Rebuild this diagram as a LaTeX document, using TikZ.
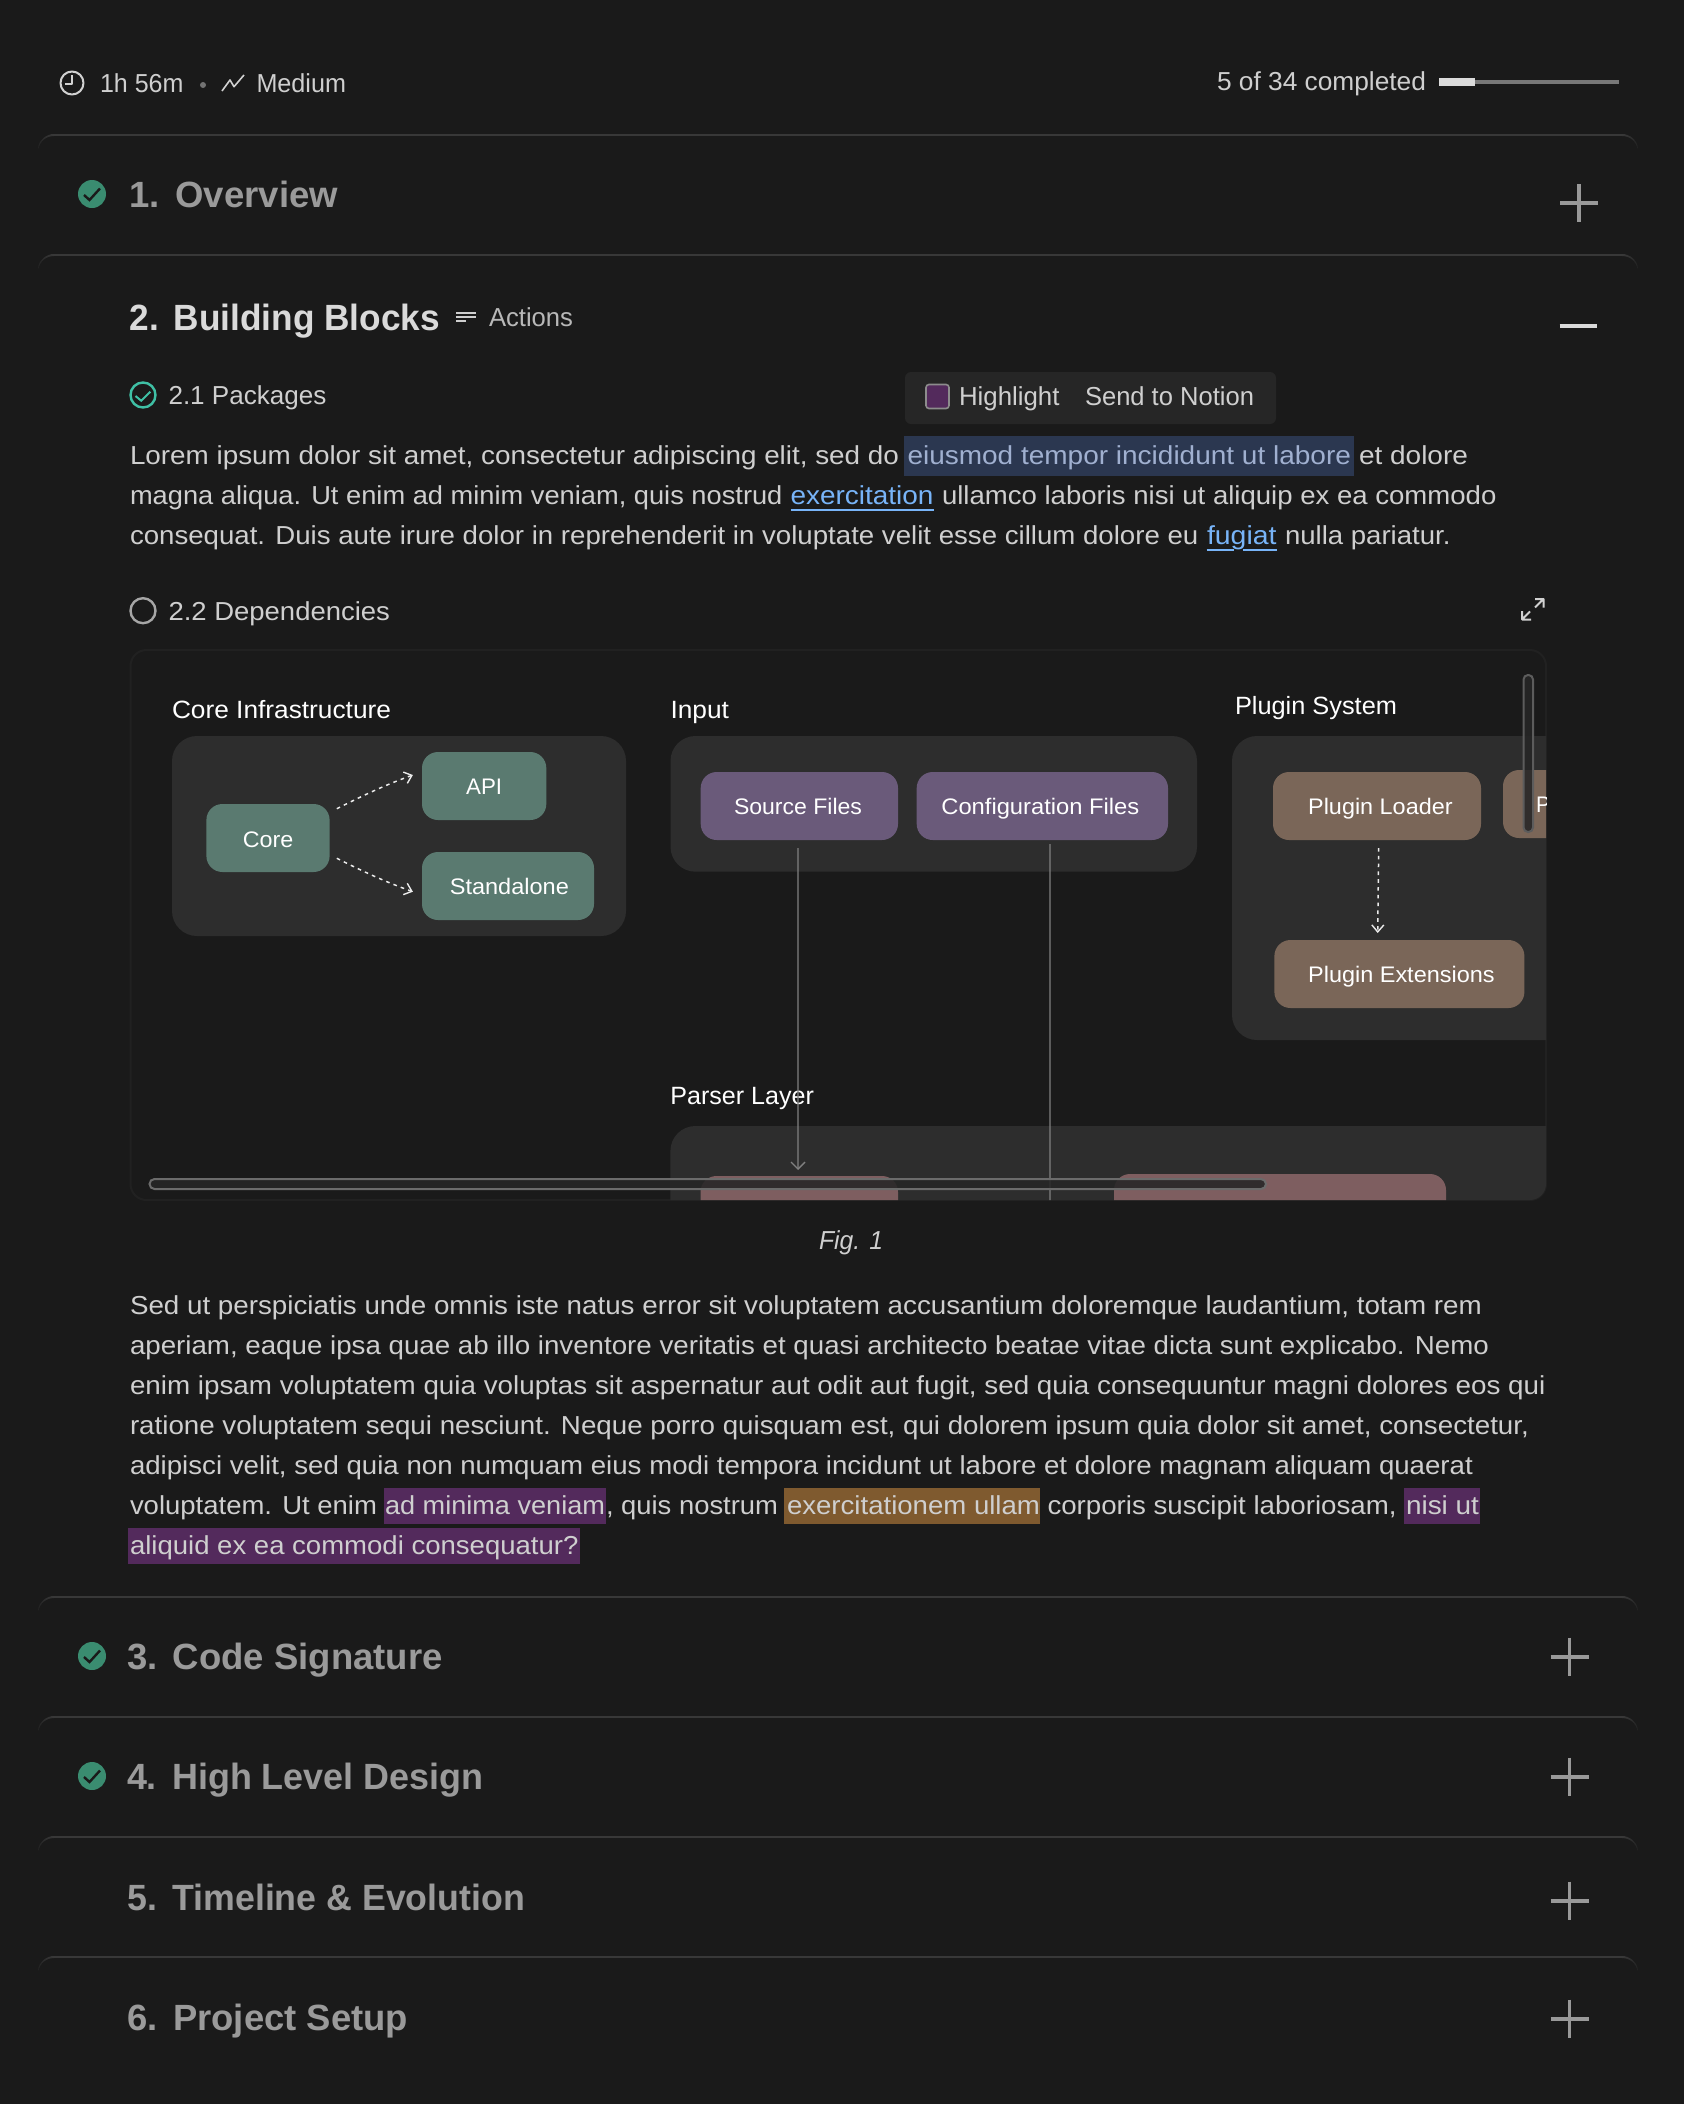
\documentclass[tikz,border=0pt]{standalone}
\usepackage{graphicx}
\usepackage{fontspec}
\usetikzlibrary{arrows.meta,calc}
\setmainfont{Liberation Sans}
\newcommand\fbody{\fontsize{26}{30}\selectfont}
\newcommand\fhead{\bfseries\fontsize{36.5}{40}\selectfont}
\newcommand\flabel{\fontsize{25}{28}\selectfont}
\newcommand\fdia{\fontsize{22.5}{26}\selectfont}
\definecolor{pagebg}{HTML}{1A1A1A}
\definecolor{secline}{HTML}{383838}
\definecolor{txtmain}{HTML}{CFCFCF}
\definecolor{txthead}{HTML}{DADADA}
\definecolor{txtdim}{HTML}{9A9A9A}
\definecolor{iconcross}{HTML}{999999}
\definecolor{linkblue}{HTML}{78B4F8}
\definecolor{selbg}{HTML}{2B3750}
\definecolor{seltxt}{HTML}{A0B0D0}
\definecolor{hlpurple}{HTML}{532A5C}
\definecolor{hlorange}{HTML}{7F5A2F}
\definecolor{checkgreen}{HTML}{3A8C70}
\definecolor{checkring}{HTML}{3FC0A5}
\definecolor{groupbg}{HTML}{2D2D2D}
\definecolor{nodegreen}{HTML}{5A7A70}
\definecolor{nodepurple}{HTML}{6A5A7A}
\definecolor{nodebrown}{HTML}{7A6658}
\definecolor{nodered}{HTML}{7E5E60}
\newsavebox\fitbox
\newcommand\fitx[2]{\sbox\fitbox{#2}\pgfmathsetmacro\fitr{#1/(\the\wd\fitbox)}\scalebox{\fitr}[1]{\usebox\fitbox}}
% font, colour, name, x0, x1, baseline, text
\newcommand\TX[7]{\pgfmathsetmacro\tw{#5-#4}\node[txt,font=#1,text=#2] (#3) at (#4,#6) {\fitx{\tw}{#7}};}
% name, x0, x1, y0, y1, style, text
\newcommand\BX[7]{\pgfmathsetmacro\bw{#3-#2}\pgfmathsetmacro\bh{#5-#4}\pgfmathsetmacro\bx{(#2+#3)/2}\pgfmathsetmacro\by{(#4+#5)/2}\node[#6,minimum width=\bw pt,minimum height=\bh pt] (#1) at (\bx,\by) {#7};}
\newcommand\secline[1]{%
  \draw[secline,line width=2pt] (54,#1) -- (1622,#1);
  \foreach \a in {0,10,...,70}{%
    \pgfmathsetmacro\p{100-\a*1.05}\pgfmathsetmacro\lw{2-\a/60}%
    \draw[color=secline!\p!pagebg,line width=\lw pt,line cap=round] ({54-16*sin(\a)},{#1+16-16*cos(\a)}) -- ({54-16*sin(\a+10)},{#1+16-16*cos(\a+10)});
    \draw[color=secline!\p!pagebg,line width=\lw pt,line cap=round] ({1622+16*sin(\a)},{#1+16-16*cos(\a)}) -- ({1622+16*sin(\a+10)},{#1+16-16*cos(\a+10)});
  }}
\newcommand\greencheck[2]{%
  \fill[checkgreen] (#1,#2) circle[radius=14];
  \draw[pagebg,line width=2.4pt] (#1-8,#2+1) -- (#1-2.5,#2+6) -- (#1+8,#2-5.5);}
\newcommand\plusicon[2]{%
  \draw[iconcross,line width=4pt] (#1-19,#2) -- (#1+19,#2);
  \draw[iconcross,line width=3.6pt] (#1,#2-19) -- (#1,#2+19);}
\tikzset{
  txt/.style={anchor=base west,inner sep=0pt,outer sep=0pt},
  rnd/.style={rectangle,rounded corners=16pt,inner sep=0pt,outer sep=0pt,text height=16.8pt,text depth=0pt,text=white,font=\fdia},
  grp/.style={rectangle,rounded corners=25pt,inner sep=0pt,outer sep=0pt,fill=groupbg},
  dep/.style={color=white!92!black,line width=1.5pt,dash pattern=on 3.6pt off 4.2pt,-{Straight Barb[length=7pt,width=12pt,line width=1.4pt]}},
  flow/.style={color=white!50!black,line width=1.3pt},
  icon/.style={line width=2pt,color=white!82!black,line join=round},
}
\begin{document}
\begin{tikzpicture}[x=1pt,y=-1pt]
\fill[pagebg] (0,0) rectangle (1684,2104);
\useasboundingbox (0,0) rectangle (1684,2104);

% top bar
\draw[icon] (72,83) circle[radius=11.5];
\draw[icon,line width=1.8pt] (72,75) -- (72,84) -- (65,84);
\TX{\fbody}{txtmain}{duration}{100}{183.5}{92.7}{1h 56m}
\fill[white!45!black] (203,85) circle[radius=3];
\draw[icon,line width=1.6pt] (222,91) -- (230,80) -- (234,86.7) -- (244,75);
\TX{\fbody}{txtmain}{level}{256.5}{346}{92.7}{Medium}
\TX{\fbody}{txtmain}{progress}{1217}{1426}{90.7}{5 of 34 completed}
\fill[white!47!black] (1439,80) rectangle (1619,84);
\fill[white!86!black] (1439,78) rectangle (1475,86);

% section rules
\secline{135}\secline{255}\secline{1597}\secline{1717}\secline{1837}\secline{1957}

% section headers
\greencheck{92}{194}
\TX{\fhead}{txtdim}{secone}{129.5}{338}{207.7}{1.\kern2pt{} Overview}
\plusicon{1579}{203}
\TX{\fhead}{txthead}{sectwo}{129.5}{440}{330}{2.\kern2pt{} Building Blocks}
\draw[line width=2pt,txtmain] (456,312.7) -- (476,312.7) (456,316.9) -- (476,316.9) (456,321) -- (466,321);
\TX{\fbody}{white!72!black}{actions}{489}{573}{326}{Actions}
\draw[txthead,line width=4pt] (1559.5,325.7) -- (1597,325.7);

% 2.1
\draw[checkring,line width=2.4pt] (143,395) circle[radius=12.5];
\draw[checkring,line width=2pt] (135.5,396) -- (141.2,400.7) -- (150.4,391.7);
\TX{\fbody}{txtmain}{packages}{168.5}{326.5}{404}{2.1 Packages}
\BX{popup}{905}{1276}{372}{424}{rectangle,rounded corners=6pt,fill=white!15!black}{}
\BX{swatch}{926}{949}{384.5}{408.5}{rectangle,rounded corners=3pt,fill=hlpurple,draw=white!55!black,line width=1.6pt}{}
\TX{\fbody}{txtmain}{highlight}{959}{1059.5}{405}{Highlight}
\TX{\fbody}{txtmain}{notion}{1085}{1254}{405}{Send to Notion}

% paragraph 1
\fill[selbg] (904,436) rectangle (1354,476);
\TX{\fbody}{txtmain}{pa}{130}{899}{464}{Lorem ipsum dolor sit amet, consectetur adipiscing elit, sed do}
\TX{\fbody}{seltxt}{pb}{907.5}{1351}{464}{eiusmod tempor incididunt ut labore}
\TX{\fbody}{txtmain}{pc}{1359}{1468}{464}{et dolore}
\TX{\fbody}{txtmain}{pd}{130}{782.5}{504}{magna aliqua. Ut enim ad minim veniam, quis nostrud}
\TX{\fbody}{linkblue}{pe}{790.5}{933.5}{504}{exercitation}
\draw[linkblue,line width=2pt] (790.5,510) -- (934,510);
\TX{\fbody}{txtmain}{pf}{942}{1496.5}{504}{ullamco laboris nisi ut aliquip ex ea commodo}
\TX{\fbody}{txtmain}{pg}{130}{1198.5}{544}{consequat. Duis aute irure dolor in reprehenderit in voluptate velit esse cillum dolore eu}
\TX{\fbody}{linkblue}{ph}{1207}{1276.5}{544}{fugiat}
\draw[linkblue,line width=2pt] (1206.5,550) -- (1234,550) (1243,550) -- (1277,550);
\TX{\fbody}{txtmain}{pi}{1285}{1450.5}{544}{nulla pariatur.}

% 2.2
\draw[white!65!black,line width=2.4pt] (143,610.7) circle[radius=12.5];
\TX{\fbody}{txtmain}{deps}{168.5}{390}{620}{2.2 Dependencies}
\draw[icon] (1535,599) -- (1543.5,599) -- (1543.5,607.5) (1543.5,599) -- (1535,607.5);
\draw[icon] (1522,611) -- (1522,619.5) -- (1531,619.5) (1522,619.5) -- (1530,611.5);

% figure frame
\BX{frame}{130.5}{1546}{650}{1200}{rectangle,rounded corners=16pt,draw=white!13!black,line width=2pt,fill=pagebg}{}
\begin{scope}
\clip[rounded corners=16pt] (130.5,650) rectangle (1546,1200);
\TX{\flabel}{white}{lcore}{172}{391}{718}{Core Infrastructure}
\BX{gcore}{172}{626}{736}{936}{grp}{}
\BX{core}{206.4}{329.6}{804}{872}{rnd,fill=nodegreen}{\raisebox{-1pt}{\fitx{50.5}{Core}}}
\BX{api}{422}{546.3}{752}{820}{rnd,fill=nodegreen}{\fitx{36}{API}}
\BX{standalone}{422}{594}{852}{920}{rnd,fill=nodegreen}{\kern2.7pt\fitx{119}{Standalone}}
\draw[dep] ([shift={(7.2,-29.3)}]core.east) .. controls +(26,-13) and +(-28,10) .. ([shift={(-9.1,-11)}]api.west);
\draw[dep] ([shift={(7.2,20.3)}]core.east) .. controls +(26,13) and +(-28,-10) .. ([shift={(-9.1,5.7)}]standalone.west);

\TX{\flabel}{white}{linput}{670.5}{729}{718}{Input}
\BX{ginput}{670.5}{1197}{736}{871.7}{grp}{}
\BX{source}{700.7}{898}{772}{840}{rnd,fill=nodepurple}{\kern-2.7pt\fitx{128}{Source Files}}
\BX{config}{916.7}{1168}{772}{840}{rnd,fill=nodepurple}{\kern-4pt\fitx{198}{Configuration Files}}

\TX{\flabel}{white}{lplugin}{1235}{1397}{714}{Plugin System}
\BX{gplugin}{1232}{1700}{736}{1040}{grp}{}
\BX{loader}{1273}{1481}{772}{840}{rnd,fill=nodebrown}{\kern6.8pt\fitx{144.5}{Plugin Loader}}
\BX{pluginrest}{1503}{1700}{770}{838}{rnd,fill=nodebrown}{}
\TX{\fdia}{white}{pluginp}{1536}{1550}{812}{P}
\BX{extensions}{1274.4}{1524.4}{940}{1008}{rnd,fill=nodebrown}{\kern4pt\fitx{186.5}{Plugin Extensions}}
\draw[dep] ([shift={(1.7,8)}]loader.south) -- ([shift={(-21.7,-7)}]extensions.north);

\TX{\flabel}{white}{lparser}{670.4}{814}{1104}{Parser Layer}
\BX{gparser}{670.4}{1700}{1126}{1500}{grp}{}
\BX{parserone}{700.5}{898}{1176}{1244}{rnd,fill=nodered}{}
\BX{parsertwo}{1114}{1446}{1174}{1242}{rnd,fill=nodered}{}
\coordinate (configout) at (1050,1210);
\draw[flow,-{Straight Barb[length=7pt,width=14pt,line width=1.3pt]}] ([shift={(-1.4,8)}]source.south) -- ([shift={(-1.2,-6)}]parserone.north);
\draw[flow] ([shift={(7.7,4)}]config.south) -- (configout);
\BX{hbar}{149.5}{1266}{1179}{1189}{rectangle,rounded corners=5pt,draw=white!42!black,line width=2pt,fill=white!15!black,fill opacity=.88}{}
\BX{vbar}{1523.5}{1533}{675}{832}{rectangle,rounded corners=4.5pt,draw=white!36!black,line width=2pt,fill=white!15!black,fill opacity=.88}{}
\end{scope}
\TX{\fbody\itshape}{txtmain}{figcap}{819}{883}{1249.3}{Fig. 1}

% paragraph 2
\fill[hlpurple] (384,1488) rectangle (606.4,1524);
\fill[hlorange] (784,1488) rectangle (1040,1524);
\fill[hlpurple] (1404,1488) rectangle (1479.6,1524);
\fill[hlpurple] (128,1528) rectangle (579.6,1564);
\TX{\fbody}{txtmain}{qa}{130}{1482}{1314}{Sed ut perspiciatis unde omnis iste natus error sit voluptatem accusantium doloremque laudantium, totam rem}
\TX{\fbody}{txtmain}{qb}{130}{1489}{1354}{aperiam, eaque ipsa quae ab illo inventore veritatis et quasi architecto beatae vitae dicta sunt explicabo. Nemo}
\TX{\fbody}{txtmain}{qc}{130}{1545.5}{1394}{enim ipsam voluptatem quia voluptas sit aspernatur aut odit aut fugit, sed quia consequuntur magni dolores eos qui}
\TX{\fbody}{txtmain}{qd}{130}{1529}{1434}{ratione voluptatem sequi nesciunt. Neque porro quisquam est, qui dolorem ipsum quia dolor sit amet, consectetur,}
\TX{\fbody}{txtmain}{qe}{130}{1473}{1474}{adipisci velit, sed quia non numquam eius modi tempora incidunt ut labore et dolore magnam aliquam quaerat}
\TX{\fbody}{txtmain}{qf}{130}{377}{1514}{voluptatem. Ut enim}
\TX{\fbody}{txtmain}{qg}{385}{605}{1514}{ad minima veniam}
\TX{\fbody}{txtmain}{qh}{606}{778}{1514}{, quis nostrum}
\TX{\fbody}{txtmain}{qi}{787}{1040}{1514}{exercitationem ullam}
\TX{\fbody}{txtmain}{qj}{1047.5}{1396.6}{1514}{corporis suscipit laboriosam,}
\TX{\fbody}{txtmain}{qk}{1406}{1479}{1514}{nisi ut}
\TX{\fbody}{txtmain}{ql}{130}{578.5}{1554}{aliquid ex ea commodi consequatur?}

% remaining sections
\greencheck{92}{1656}
\TX{\fhead}{txtdim}{secthree}{127}{442.5}{1669.5}{3.\kern2pt{} Code Signature}
\plusicon{1569.5}{1656.7}
\greencheck{92}{1776}
\TX{\fhead}{txtdim}{secfour}{127}{483.5}{1789.5}{4.\kern2pt{} High Level Design}
\plusicon{1569.5}{1776.7}
\TX{\fhead}{txtdim}{secfive}{127.3}{525}{1910}{5.\kern2pt{} Timeline \& Evolution}
\plusicon{1569.5}{1900.7}
\TX{\fhead}{txtdim}{secsix}{127.3}{408}{2030}{6.\kern2pt{} Project Setup}
\plusicon{1569.5}{2018.7}
\end{tikzpicture}
\end{document}
